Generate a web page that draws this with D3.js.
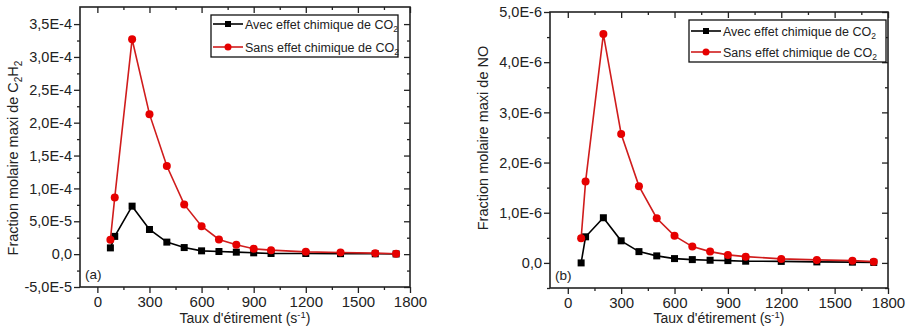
<!DOCTYPE html>
<html>
<head>
<meta charset="utf-8">
<script src="https://cdn.jsdelivr.net/npm/d3@7"></script>
<style>
  body { margin: 0; background: #fff; }
  text { font-family: "Liberation Sans", Arial, sans-serif; fill: #222; }
</style>
</head>
<body>
<div id="chart"></div>
<script>
// strain rates (s-1)
var strainRates = [75, 100, 200, 300, 400, 500, 600, 700, 800, 900, 1000, 1200, 1400, 1600, 1720];

// (a) max mole fraction of C2H2
var c2h2Avec = [9.5e-6, 2.7e-5, 7.3e-5, 3.75e-5, 1.83e-5, 1.0e-5, 5e-6, 4e-6, 3e-6, 2e-6, 1e-6, 1e-6, 0.7e-6, 0.5e-6, 0.3e-6];
var c2h2Sans = [2.2e-5, 8.6e-5, 3.27e-4, 2.13e-4, 1.34e-4, 7.56e-5, 4.26e-5, 2.24e-5, 1.42e-5, 8.1e-6, 6.1e-6, 3.5e-6, 2.6e-6, 1.5e-6, 0.5e-6];

// (b) max mole fraction of NO
var noAvec = [0, 0.52e-6, 0.9e-6, 0.44e-6, 0.225e-6, 0.14e-6, 0.086e-6, 0.066e-6, 0.053e-6, 0.046e-6, 0.034e-6, 0.03e-6, 0.02e-6, 0.015e-6, 0.01e-6];
var noSans = [0.49e-6, 1.62e-6, 4.56e-6, 2.57e-6, 1.53e-6, 0.89e-6, 0.54e-6, 0.325e-6, 0.225e-6, 0.16e-6, 0.125e-6, 0.08e-6, 0.06e-6, 0.045e-6, 0.025e-6];

var xTicks = [0, 300, 600, 900, 1200, 1500, 1800];
var xMinor = [150, 450, 750, 1050, 1350, 1650];
var c2h2Ticks = [-5e-5, 0, 5e-5, 1e-4, 1.5e-4, 2e-4, 2.5e-4, 3e-4, 3.5e-4];
var c2h2Minor = [-2.5e-5, 2.5e-5, 7.5e-5, 1.25e-4, 1.75e-4, 2.25e-4, 2.75e-4, 3.25e-4];
var noTicks = [0, 1e-6, 2e-6, 3e-6, 4e-6, 5e-6];
var noMinor = [-5e-7, 5e-7, 1.5e-6, 2.5e-6, 3.5e-6, 4.5e-6];

var seriesNames = ["Avec effet chimique de CO", "Sans effet chimique de CO"];

var RED = "#e60000";
var RED_LINE = "#d01c1c";

var svg = d3.select("#chart").append("svg")
    .attr("width", 909)
    .attr("height", 328);

// "3,5E-4" style labels
function sciFr(v){
    if (Math.abs(v) < 1e-15) return "0,0";
    var e = Math.floor(Math.log10(Math.abs(v)) + 1e-9);
    var m = v / Math.pow(10, e);
    return m.toFixed(1).replace(".", ",") + "E" + e;
}

function drawPanel(p){
    var x = d3.scaleLinear().domain([-100, 1800]).range([p.left, p.right]);
    var y = d3.scaleLinear().domain(p.yDomain).range([p.bottom, p.top]);
    var g = svg.append("g");

    // bottom axis (outward ticks)
    var bottom = g.append("g").attr("transform", "translate(0," + p.bottom + ")")
        .call(d3.axisBottom(x).tickValues(xTicks).tickSize(6).tickPadding(3).tickFormat(d3.format("d")));
    g.append("g").attr("transform", "translate(0," + p.bottom + ")")
        .call(d3.axisBottom(x).tickValues(xMinor).tickSize(3).tickFormat(""));
    // top axis (inward)
    g.append("g").attr("transform", "translate(0," + p.top + ")")
        .call(d3.axisBottom(x).tickValues(xTicks).tickSize(6).tickFormat(""));
    g.append("g").attr("transform", "translate(0," + p.top + ")")
        .call(d3.axisBottom(x).tickValues(xMinor).tickSize(3).tickFormat(""));
    // left axis (outward)
    var left = g.append("g").attr("transform", "translate(" + p.left + ",0)")
        .call(d3.axisLeft(y).tickValues(p.yTicks).tickSize(6).tickPadding(2).tickFormat(sciFr));
    g.append("g").attr("transform", "translate(" + p.left + ",0)")
        .call(d3.axisLeft(y).tickValues(p.yMinor).tickSize(3).tickFormat(""));
    // right axis (inward)
    g.append("g").attr("transform", "translate(" + p.right + ",0)")
        .call(d3.axisLeft(y).tickValues(p.yTicks).tickSize(6).tickFormat(""));
    g.append("g").attr("transform", "translate(" + p.right + ",0)")
        .call(d3.axisLeft(y).tickValues(p.yMinor).tickSize(3).tickFormat(""));

    g.selectAll(".domain").remove();
    g.selectAll(".tick line").attr("stroke", "#222").attr("stroke-width", 1.3);
    bottom.selectAll("text").style("font-size", "15px").attr("fill", "#222");
    left.selectAll("text").style("font-size", "14.5px").attr("fill", "#222");

    // frame
    g.append("rect")
        .attr("x", p.left).attr("y", p.top)
        .attr("width", p.right - p.left).attr("height", p.bottom - p.top)
        .attr("fill", "none").attr("stroke", "#222").attr("stroke-width", 1.6);

    var line = d3.line().x(function(d){ return x(d[0]); }).y(function(d){ return y(d[1]); });
    var avec = strainRates.map(function(r, i){ return [r, p.avec[i]]; });
    var sans = strainRates.map(function(r, i){ return [r, p.sans[i]]; });

    g.append("path").datum(avec).attr("d", line)
        .attr("fill", "none").attr("stroke", "#000").attr("stroke-width", 1.6);
    g.selectAll(".sq").data(avec).enter().append("rect")
        .attr("x", function(d){ return x(d[0]) - 3.5; })
        .attr("y", function(d){ return y(d[1]) - 3.5; })
        .attr("width", 7).attr("height", 7).attr("fill", "#000");

    g.append("path").datum(sans).attr("d", line)
        .attr("fill", "none").attr("stroke", RED_LINE).attr("stroke-width", 1.6);
    g.selectAll(".ci").data(sans).enter().append("circle")
        .attr("cx", function(d){ return x(d[0]); })
        .attr("cy", function(d){ return y(d[1]); })
        .attr("r", 4).attr("fill", RED);

    // panel letter
    g.append("text").attr("x", p.left + 5).attr("y", p.bottom - 8)
        .style("font-size", "13.5px").text(p.letter);

    // x title
    var xt = g.append("text").attr("x", (p.left + p.right) / 2).attr("y", 323)
        .attr("text-anchor", "middle").style("font-size", "14px");
    xt.append("tspan").text("Taux d'étirement (s");
    xt.append("tspan").attr("dy", -5).style("font-size", "9.5px").text("-1");
    xt.append("tspan").attr("dy", 5).text(")");

    // y title
    var yt = g.append("text")
        .attr("transform", "translate(" + p.yTitleX + "," + p.yTitleY + ") rotate(-90)")
        .attr("text-anchor", "middle").style("font-size", "14.5px");
    p.yTitle.forEach(function(part){
        var t = yt.append("tspan").text(part[0]);
        if (part[1] === "sub") t.attr("dy", 4).style("font-size", "10px");
        if (part[1] === "up") t.attr("dy", -4);
    });

    // legend
    var L = p.legend;
    g.append("rect").attr("x", L.x).attr("y", L.y).attr("width", L.w).attr("height", L.h)
        .attr("fill", "#fff").attr("stroke", "#111").attr("stroke-width", 1.3);
    seriesNames.forEach(function(name, i){
        var cy = L.y + L.row0 + i * L.step;
        g.append("line").attr("x1", L.x + 2).attr("x2", L.x + 32).attr("y1", cy).attr("y2", cy)
            .attr("stroke", i === 0 ? "#000" : RED_LINE).attr("stroke-width", 1.6);
        if (i === 0) {
            g.append("rect").attr("x", L.x + 14).attr("y", cy - 3).attr("width", 6).attr("height", 6).attr("fill", "#000");
        } else {
            g.append("circle").attr("cx", L.x + 17).attr("cy", cy).attr("r", 3.5).attr("fill", RED);
        }
        var t = g.append("text").attr("x", L.x + 34).attr("y", cy + 4.5).style("font-size", "12.5px");
        t.append("tspan").text(name);
        t.append("tspan").attr("dy", 3.5).style("font-size", "8.5px").text("2");
    });
}

drawPanel({
    left: 80, right: 410, top: 7, bottom: 287,
    yDomain: [-5e-5, 3.76e-4], yTicks: c2h2Ticks, yMinor: c2h2Minor,
    avec: c2h2Avec, sans: c2h2Sans, letter: "(a)",
    yTitleX: 18, yTitleY: 158,
    yTitle: [["Fraction molaire maxi de C"], ["2", "sub"], ["H", "up"], ["2", "sub"]],
    legend: { x: 211, y: 15, w: 187, h: 42, row0: 9, step: 23 }
});

drawPanel({
    left: 550, right: 888, top: 12, bottom: 288,
    yDomain: [-5e-7, 5e-6], yTicks: noTicks, yMinor: noMinor,
    avec: noAvec, sans: noSans, letter: "(b)",
    yTitleX: 488, yTitleY: 138,
    yTitle: [["Fraction molaire maxi de NO"]],
    legend: { x: 689, y: 20, w: 197, h: 42, row0: 11, step: 21 }
});
</script>
</body>
</html>
